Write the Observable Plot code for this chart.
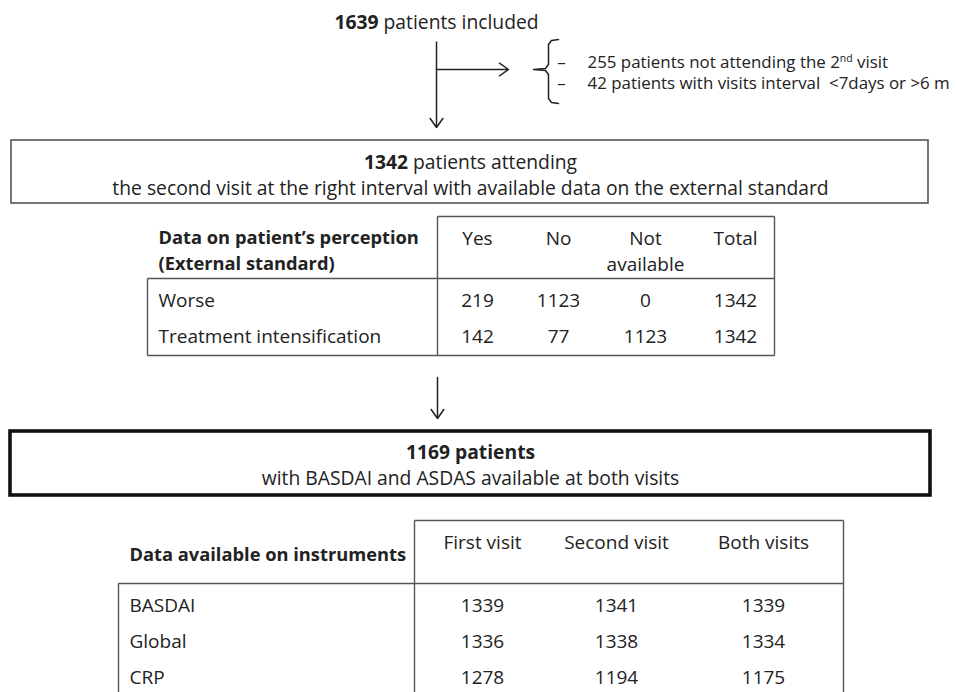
<!DOCTYPE html>
<html>
<head>
<meta charset="utf-8">
<script src="https://cdn.jsdelivr.net/npm/d3@7"></script>
<script src="https://cdn.jsdelivr.net/npm/@observablehq/plot@0.6"></script>
<style>
  html, body { margin: 0; padding: 0; background: #fff; }
  #chart svg { display: block; }
</style>
</head>
<body>
<div id="chart"></div>
<script>
// ---------- DATA ----------
const flowTexts = ["1639 patients included", "1342 patients attending", "the second visit at the right interval with available data on the external standard", "1169 patients", "with BASDAI and ASDAS available at both visits"];
const exclusions = ["255 patients not attending the 2nd visit", "42 patients with visits interval  <7days or >6 m"];
const perceptionTitle = ["Data on patient\u2019s perception", "(External standard)"];
const perceptionCols = [["Yes"], ["No"], ["Not", "available"], ["Total"]];
const perceptionRows = ["Worse", "Treatment intensification"];
const perceptionValues = [[219, 1123, 0, 1342], [142, 77, 1123, 1342]];
const instrumentTitle = "Data available on instruments";
const instrumentCols = ["First visit", "Second visit", "Both visits"];
const instrumentRows = ["BASDAI", "Global", "CRP"];
const instrumentValues = [[1339, 1341, 1339], [1336, 1338, 1334], [1278, 1194, 1175]];

// ---------- LAYOUT ----------
const W = 956, H = 692;
const L = {
  top: {x: 436, textY: 22, lineTop: 41, lineBottom: 127, branchY: 69, branchEnd: 508},
  brace: {x: 548, top: 39, bottom: 103, stubX: 533, serifX: 558},
  excl: {dashX: 561, textX: 587, y0: 62, dy: 21},
  box1: {x1: 11, x2: 928, y1: 140, y2: 203, line1: 162, line2: 188, cx: 470},
  t1: {x1: 147, div: 437, x2: 774, top: 216, sep: 278, bottom: 355, labelX: 158, headY: 238, headDy: 26, rowY: [300, 336], cols: [477, 558, 645, 735]},
  arrow2: {x: 437, y1: 377, y2: 418},
  box2: {x1: 10, x2: 930, y1: 431, y2: 495, line1: 452, line2: 478, cx: 470},
  t2: {x1: 118, div: 414, x2: 843, top: 520, sep: 583, bottom: 720, labelX: 129, labelY: 555, headY: 542, rowY: [605, 641, 677], cols: [482, 616, 763]}
};

const FONT = "'Open Sans', Lato, sans-serif";
const INK = "#222";
const FS_BOX = 19.3, FS_EX = 16.9, FS_TAB = 19, FS_TABB = 18.3;

// ---------- derived tables ----------
const segs = []; // {x1,y1,x2,y2,w,c}
const seg = (x1, y1, x2, y2, w = 1.4, c = "#555") => segs.push({x1, y1, x2, y2, w, c});

// top flow
seg(L.top.x, L.top.lineTop, L.top.x, L.top.branchY, 1.5, INK);
const arrows = [
  {x1: L.top.x, y1: L.top.branchY, x2: L.top.x, y2: L.top.lineBottom},
  {x1: L.top.x, y1: L.top.branchY, x2: L.top.branchEnd, y2: L.top.branchY},
  {x1: L.arrow2.x, y1: L.arrow2.y1, x2: L.arrow2.x, y2: L.arrow2.y2}
];
const B = L.brace, my = L.top.branchY;
const brace = [
  {x: B.serifX, y: B.top},
  {x: B.x + 3, y: B.top + 1},
  {x: B.x, y: B.top + 5},
  {x: B.x, y: my - 5},
  {x: B.x - 3, y: my - 1},
  {x: B.stubX, y: my},
  {x: B.x - 3, y: my + 1},
  {x: B.x, y: my + 5},
  {x: B.x, y: B.bottom - 5},
  {x: B.x + 3, y: B.bottom - 1},
  {x: B.serifX, y: B.bottom}
];

// table 1 lines
const t1 = L.t1;
seg(t1.div, t1.top, t1.x2, t1.top);
seg(t1.x2, t1.top, t1.x2, t1.bottom);
seg(t1.div, t1.top, t1.div, t1.bottom);
seg(t1.x1, t1.sep, t1.x2, t1.sep);
seg(t1.x1, t1.sep, t1.x1, t1.bottom);
seg(t1.x1, t1.bottom, t1.x2, t1.bottom);
// table 2 lines
const t2 = L.t2;
seg(t2.div, t2.top, t2.x2, t2.top);
seg(t2.x2, t2.top, t2.x2, t2.bottom);
seg(t2.div, t2.top, t2.div, t2.bottom);
seg(t2.x1, t2.sep, t2.x2, t2.sep);
seg(t2.x1, t2.sep, t2.x1, t2.bottom);

const texts = []; // {x,y,t,anchor,size,bold}
const txt = (x, y, t, anchor = "middle", size = FS_TAB, bold = false) => texts.push({x, y, t, anchor, size, bold});

txt(L.top.x, L.top.textY, flowTexts[0], "middle", FS_BOX);
exclusions.forEach((e, i) => {
  txt(L.excl.dashX, L.excl.y0 + i * L.excl.dy, "\u2013", "middle", FS_EX);
  txt(L.excl.textX, L.excl.y0 + i * L.excl.dy, e, "start", FS_EX);
});
txt(L.box1.cx, L.box1.line1, flowTexts[1], "middle", FS_BOX);
txt(L.box1.cx, L.box1.line2, flowTexts[2], "middle", FS_BOX);
txt(L.box2.cx, L.box2.line1, flowTexts[3], "middle", FS_BOX, true);
txt(L.box2.cx, L.box2.line2, flowTexts[4], "middle", FS_BOX);

perceptionTitle.forEach((t, i) => txt(t1.labelX, t1.headY + i * t1.headDy, t, "start", FS_TABB, true));
perceptionCols.forEach((lines, j) => lines.forEach((t, i) => txt(t1.cols[j], t1.headY + i * t1.headDy, t)));
perceptionRows.forEach((r, i) => {
  txt(t1.labelX, t1.rowY[i], r, "start");
  perceptionValues[i].forEach((v, j) => txt(t1.cols[j], t1.rowY[i], String(v)));
});

txt(t2.labelX, t2.labelY, instrumentTitle, "start", FS_TABB, true);
instrumentCols.forEach((c, j) => txt(t2.cols[j], t2.headY, c));
instrumentRows.forEach((r, i) => {
  txt(t2.labelX, t2.rowY[i], r, "start");
  instrumentValues[i].forEach((v, j) => txt(t2.cols[j], t2.rowY[i], String(v)));
});

const boxes = [
  {...L.box1, w: 1.6, c: "#555"},
  {...L.box2, w: 3.6, c: "#111"}
];

const plot = Plot.plot({
  width: W, height: H, margin: 0,
  x: {domain: [0, W], range: [0, W], axis: null},
  y: {domain: [0, H], range: [0, H], axis: null},
  style: {fontFamily: FONT, background: "#fff", color: INK},
  marks: [
    Plot.rect(boxes, {x1: "x1", x2: "x2", y1: "y1", y2: "y2", fill: "none", stroke: "c", strokeWidth: "w"}),
    Plot.link(segs, {x1: "x1", y1: "y1", x2: "x2", y2: "y2", stroke: "c", strokeWidth: "w"}),
    Plot.line(brace, {x: "x", y: "y", stroke: INK, strokeWidth: 1.5, curve: "linear"}),
    Plot.arrow(arrows, {x1: "x1", y1: "y1", x2: "x2", y2: "y2", stroke: INK, strokeWidth: 1.5, headLength: 11, headAngle: 70}),
    ...[false, true].map(b => Plot.text(texts.filter(d => d.bold === b && d.anchor === "middle"), {x: "x", y: "y", text: "t", textAnchor: "middle", fontSize: FS_TAB, fill: INK, fontWeight: b ? "bold" : "normal"})),
    ...[false, true].map(b => Plot.text(texts.filter(d => d.bold === b && d.anchor === "start"), {x: "x", y: "y", text: "t", textAnchor: "start", fontSize: FS_TAB, fill: INK, fontWeight: b ? "bold" : "normal"}))
  ]
});

// per-text font sizes & rich formatting (bold numbers, superscript)
const NS = "http://www.w3.org/2000/svg";
d3.select(plot).selectAll("text").each(function () {
  const el = this;
  const t = el.textContent;
  const match = texts.find(d => d.t === t);
  if (match) el.setAttribute("font-size", match.size);
  const parts = [];
  let m;
  if ((m = t.match(/^(1639|1342)( patients.*)$/))) {
    parts.push({t: m[1], bold: true}, {t: m[2]});
  } else if ((m = t.match(/^(.*the 2)(nd)( visit)$/))) {
    parts.push({t: m[1]}, {t: m[2], sup: true}, {t: m[3], unsup: true});
  }
  if (parts.length) {
    el.textContent = "";
    const fs = match ? match.size : FS_TAB;
    parts.forEach(p => {
      const ts = document.createElementNS(NS, "tspan");
      ts.textContent = p.t;
      if (p.bold) ts.setAttribute("font-weight", "bold");
      if (p.sup) { ts.setAttribute("font-size", fs * 0.62); ts.setAttribute("dy", -fs * 0.36); }
      if (p.unsup) ts.setAttribute("dy", fs * 0.36);
      el.appendChild(ts);
    });
  }
  el.setAttribute("style", "white-space: pre");
});

document.getElementById("chart").appendChild(plot);
</script>
</body>
</html>
